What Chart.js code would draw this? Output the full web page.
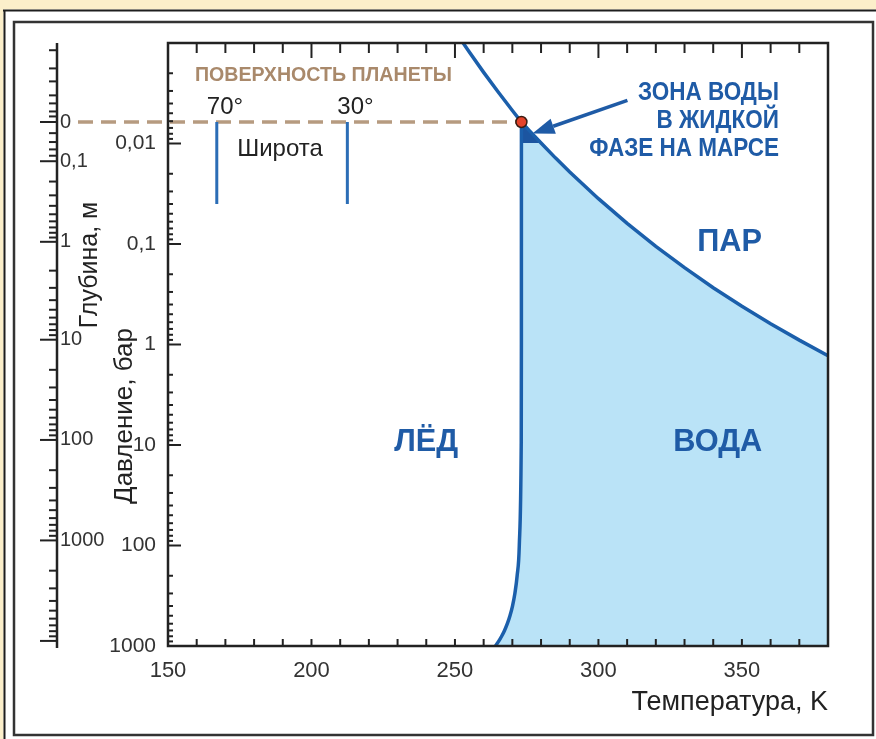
<!DOCTYPE html>
<html><head><meta charset="utf-8">
<script src="https://cdn.jsdelivr.net/npm/chart.js@4.4.1/dist/chart.umd.min.js"></script>
<style>html,body{margin:0;padding:0;background:#fff;overflow:hidden}canvas{display:block}</style>
</head><body>
<canvas id="c" width="876" height="739"></canvas>
<script>
// ---------------- data ----------------
const tempTicks = [150, 200, 250, 300, 350];
const tempTickLabels = ['150', '200', '250', '300', '350'];
const pressureTicks = [0.01, 0.1, 1, 10, 100, 1000];
const pressureTickLabels = ['0,01', '0,1', '1', '10', '100', '1000'];
const depthTicks = [0, 0.1, 1, 10, 100, 1000, 10000];
const depthTickLabels = ['0', '0,1', '1', '10', '100', '1000', ''];
const depthUpperTicksP = [0.00118, 0.00179, 0.00241, 0.00332, 0.00399, 0.0048, 0.00538];

// saturation (sublimation / evaporation) curve, K and bar
const vaporT = [250, 255, 260, 265, 270, 273.16, 276, 280, 285, 290, 300, 310, 320, 330, 340, 350, 360, 370, 380];
const vaporP = [0.00076, 0.00123, 0.00196, 0.00306, 0.0047, 0.00611, 0.0075, 0.0099, 0.0139, 0.0192, 0.0354, 0.0623, 0.1055, 0.172, 0.272, 0.417, 0.622, 0.905, 1.29];
// melting curve
const meltT = [273.16, 273.15, 273.09, 272.42, 271.67, 270.88, 270.05, 269.17, 268.25, 267.28, 266.26, 265.2, 264.1];
const meltP = [0.00611, 1, 10, 100, 200, 300, 400, 500, 600, 700, 800, 900, 1000];
// liquid water zone on Mars (dark triangle)
const zoneT = [273.16, 276, 280, 273.16];
const zoneP = [0.00611, 0.0075, 0.0099, 0.0099];
// triple point / planet surface
const tripleT = [273.16];
const tripleP = [0.00611];
// latitude markers
const latitudeLabels = ['70°', '30°'];
const latitudeT = [167, 212.5];
const latitudeP = [0.00611, 0.04];
// depth -> pressure relation (bar = surface + gradient * metres)
const surfacePressure = 0.00611;
const depthPressureGradient = 0.089;

// ---------------- helpers ----------------
const FONT = "'Liberation Sans', Arial, sans-serif";
const BLUE_LINE = '#1b5fab';
const BLUE_TEXT = '#1f5ba6';
const FILL = '#bae3f7';
const DARK_ZONE = '#1c55a0';
const BROWN = '#a9896b';
const DASH = '#b69b80';
const INK = '#222222';
const T_MIN = 150, T_MAX = 380, P_MIN = 0.001, P_MAX = 1000;
const DEPTH_X = 57;

const depthToP = d => surfacePressure + depthPressureGradient * d;
const pts = (xs, ys) => xs.map((x, i) => ({x: x, y: ys[i]}));

const liquidPolygon = pts(meltT.slice().reverse(), meltP.slice().reverse())
  .concat(pts(vaporT, vaporP).filter(p => p.x > tripleT[0]))
  .concat([{x: T_MAX, y: P_MAX}]);

function txt(ctx, s, x, y, o) {
  ctx.save();
  ctx.translate(x, y);
  if (o.rot) ctx.rotate(o.rot);
  if (o.sx) ctx.scale(o.sx, 1);
  ctx.font = o.font;
  ctx.fillStyle = o.color || INK;
  ctx.textAlign = o.align || 'left';
  ctx.textBaseline = o.baseline || 'alphabetic';
  ctx.fillText(s, 0, 0);
  ctx.restore();
}
function seg(ctx, x1, y1, x2, y2) { ctx.beginPath(); ctx.moveTo(x1, y1); ctx.lineTo(x2, y2); ctx.stroke(); }

const framePlugin = {
  id: 'frame',
  beforeDraw(chart) {
    const ctx = chart.ctx, W = chart.width, H = chart.height;
    ctx.save();
    ctx.fillStyle = '#ffffff'; ctx.fillRect(0, 0, W, H);
    ctx.fillStyle = '#fcefca'; ctx.fillRect(0, 0, W, 9.5); ctx.fillRect(0, 0, 3.5, H);
    ctx.strokeStyle = '#1e1e1e'; ctx.lineWidth = 2;
    seg(ctx, 3, 10.5, W, 10.5);
    seg(ctx, 4.5, 10, 4.5, H);
    ctx.strokeStyle = '#333'; ctx.lineWidth = 2.5;
    ctx.strokeRect(14, 22, 859, 713);
    ctx.restore();
  }
};

const overlayPlugin = {
  id: 'overlay',
  beforeDatasetsDraw(chart) {
    const ctx = chart.ctx, xs = chart.scales.x, ys = chart.scales.y;
    const y0 = ys.getPixelForValue(surfacePressure);
    ctx.save();
    ctx.strokeStyle = DASH; ctx.lineWidth = 3.5; ctx.setLineDash([15, 8]);
    seg(ctx, DEPTH_X + 21, y0, xs.getPixelForValue(tripleT[0]), y0);
    ctx.restore();
  },
  afterDatasetsDraw(chart) {
    const ctx = chart.ctx, xs = chart.scales.x, ys = chart.scales.y, a = chart.chartArea;
    const X = v => xs.getPixelForValue(v), Y = v => ys.getPixelForValue(v);
    ctx.save();
    ctx.strokeStyle = INK; ctx.lineCap = 'butt';

    // pressure axis ticks (inside)
    ctx.lineWidth = 2;
    for (let dec = P_MIN; dec <= P_MAX * 1.0001; dec *= 10) {
      const y = Y(dec); seg(ctx, a.left, y, a.left + 13, y);
      if (dec < P_MAX * 0.999) for (let m = 2; m <= 9; m++) { const ym = Y(dec * m); seg(ctx, a.left, ym, a.left + 5, ym); }
    }
    // temperature ticks top & bottom
    for (let t = T_MIN + 10; t < T_MAX; t += 10) {
      const x = X(t);
      const major = (t % 50 === 0);
      seg(ctx, x, a.top, x, a.top + (major ? 15 : 10));
      seg(ctx, x, a.bottom, x, a.bottom - 7);
    }
    // plot frame
    ctx.lineWidth = 2.5;
    ctx.strokeRect(a.left, a.top, a.right - a.left, a.bottom - a.top);

    // depth axis
    ctx.lineWidth = 2.5;
    seg(ctx, DEPTH_X, a.top, DEPTH_X, a.bottom + 2);
    ctx.lineWidth = 2;
    depthTicks.forEach((d, i) => {
      const y = Y(depthToP(d));
      seg(ctx, DEPTH_X - 17, y, DEPTH_X, y);
      if (depthTickLabels[i]) txt(ctx, depthTickLabels[i], DEPTH_X + 3, y, {font: '20px ' + FONT, baseline: 'middle', color: '#333'});
    });
    const minorDepth = [0.02, 0.04, 0.06, 0.08];
    [0.1, 1, 10, 100, 1000].forEach(dec => { for (let m = 2; m <= 9; m++) minorDepth.push(dec * m); });
    minorDepth.forEach(d => { const y = Y(depthToP(d)); seg(ctx, DEPTH_X - 8, y, DEPTH_X, y); });
    depthUpperTicksP.forEach(p => { const y = Y(p); seg(ctx, DEPTH_X - 8, y, DEPTH_X, y); });

    // axis titles
    txt(ctx, 'Глубина, м', 90, 265, {font: '25px ' + FONT, align: 'center', baseline: 'middle', rot: -Math.PI / 2});
    txt(ctx, 'Давление, бар', 125, 416, {font: '26px ' + FONT, align: 'center', baseline: 'middle', rot: -Math.PI / 2});

    // surface annotations
    const y0 = Y(surfacePressure);
    txt(ctx, 'ПОВЕРХНОСТЬ ПЛАНЕТЫ', X(159.4), Y(0.00241), {font: 'bold 20px ' + FONT, color: BROWN, sx: 0.98});
    latitudeLabels.forEach((s, i) => txt(ctx, s, X(latitudeT[i]) - 10, y0 - 8, {font: '24px ' + FONT}));
    txt(ctx, 'Широта', X(174.1), Y(0.01317), {font: '24px ' + FONT});

    // phase labels
    const big = {font: 'bold 32px ' + FONT, color: BLUE_TEXT, align: 'center', baseline: 'middle', sx: 0.96};
    txt(ctx, 'ЛЁД', X(240), Y(9.36), big);
    txt(ctx, 'ВОДА', X(341.6), Y(9.36), big);
    txt(ctx, 'ПАР', X(345.7), Y(0.0949), big);

    // zone note
    const zx = X(362.9), zy = Y(0.003726);
    const zf = {font: 'bold 25px ' + FONT, color: BLUE_TEXT, align: 'right', sx: 0.9};
    txt(ctx, 'ЗОНА ВОДЫ', zx, zy, zf);
    txt(ctx, 'В ЖИДКОЙ', zx, zy + 28, zf);
    txt(ctx, 'ФАЗЕ НА МАРСЕ', zx, zy + 56, zf);

    // arrow
    const tx = X(310.1), ty = Y(0.00373), hx = X(277.0), hy = Y(0.00795);
    const ang = Math.atan2(hy - ty, hx - tx), L = 22, Wd = 8;
    const bx = hx - L * Math.cos(ang), by = hy - L * Math.sin(ang);
    ctx.strokeStyle = BLUE_TEXT; ctx.fillStyle = BLUE_TEXT; ctx.lineWidth = 3.5;
    seg(ctx, tx, ty, bx, by);
    ctx.beginPath();
    ctx.moveTo(hx, hy);
    ctx.lineTo(bx + Wd * Math.sin(ang), by - Wd * Math.cos(ang));
    ctx.lineTo(bx - Wd * Math.sin(ang), by + Wd * Math.cos(ang));
    ctx.closePath(); ctx.fill();
    ctx.restore();
  }
};

new Chart(document.getElementById('c'), {
  type: 'scatter',
  data: {
    datasets: [
      {label: 'triple', data: pts(tripleT, tripleP), pointRadius: 5.5, pointBackgroundColor: '#e4432b',
       pointBorderColor: '#3a1c12', pointBorderWidth: 1.5, order: 0},
      {label: 'vapor', data: pts(vaporT, vaporP), showLine: true, borderColor: BLUE_LINE, borderWidth: 3.5,
       pointRadius: 0, fill: false, tension: 0, order: 1},
      {label: 'melt', data: pts(meltT, meltP), showLine: true, borderColor: BLUE_LINE, borderWidth: 3.5,
       pointRadius: 0, fill: false, cubicInterpolationMode: 'monotone', order: 1},
      {label: 'lat70', data: pts([latitudeT[0], latitudeT[0]], latitudeP), showLine: true, borderColor: '#2b6db6',
       borderWidth: 3, pointRadius: 0, order: 1},
      {label: 'lat30', data: pts([latitudeT[1], latitudeT[1]], latitudeP), showLine: true, borderColor: '#2b6db6',
       borderWidth: 3, pointRadius: 0, order: 1},
      {label: 'zone', data: pts(zoneT, zoneP), showLine: true, borderWidth: 0, borderColor: 'rgba(0,0,0,0)',
       backgroundColor: DARK_ZONE, fill: 'shape', pointRadius: 0, order: 2},
      {label: 'liquid', data: liquidPolygon, showLine: true, borderWidth: 0, borderColor: 'rgba(0,0,0,0)',
       backgroundColor: FILL, fill: 'shape', pointRadius: 0, order: 3}
    ]
  },
  options: {
    responsive: false, animation: false, devicePixelRatio: 1, events: [],
    layout: {padding: {left: 0, top: 43, right: 48, bottom: 0}},
    plugins: {legend: {display: false}, tooltip: {enabled: false}},
    scales: {
      x: {
        type: 'linear', min: T_MIN, max: T_MAX,
        grid: {display: false, drawTicks: false}, border: {display: false},
        afterBuildTicks(s) { s.ticks = tempTicks.map(v => ({value: v})); },
        ticks: {padding: 12, color: '#333', autoSkip: false, maxRotation: 0, font: {family: FONT, size: 22},
          callback: v => { const i = tempTicks.indexOf(v); return i >= 0 ? tempTickLabels[i] : ''; }},
        title: {display: true, text: 'Температура, K', align: 'end', color: INK,
          font: {family: FONT, size: 27}, padding: {top: 0, bottom: 20}},
        afterFit(s) { s.height = 93; }
      },
      y: {
        type: 'logarithmic', reverse: true, min: P_MIN, max: P_MAX,
        grid: {display: false, drawTicks: false}, border: {display: false},
        afterBuildTicks(s) { s.ticks = pressureTicks.map(v => ({value: v})); },
        ticks: {padding: 12, color: '#333', autoSkip: false, font: {family: FONT, size: 21},
          callback: v => { const i = pressureTicks.findIndex(p => Math.abs(p - v) / p < 1e-6); return i >= 0 ? pressureTickLabels[i] : ''; }},
        afterFit(s) { s.width = 168; }
      }
    }
  },
  plugins: [framePlugin, overlayPlugin]
});
</script>
</body></html>
